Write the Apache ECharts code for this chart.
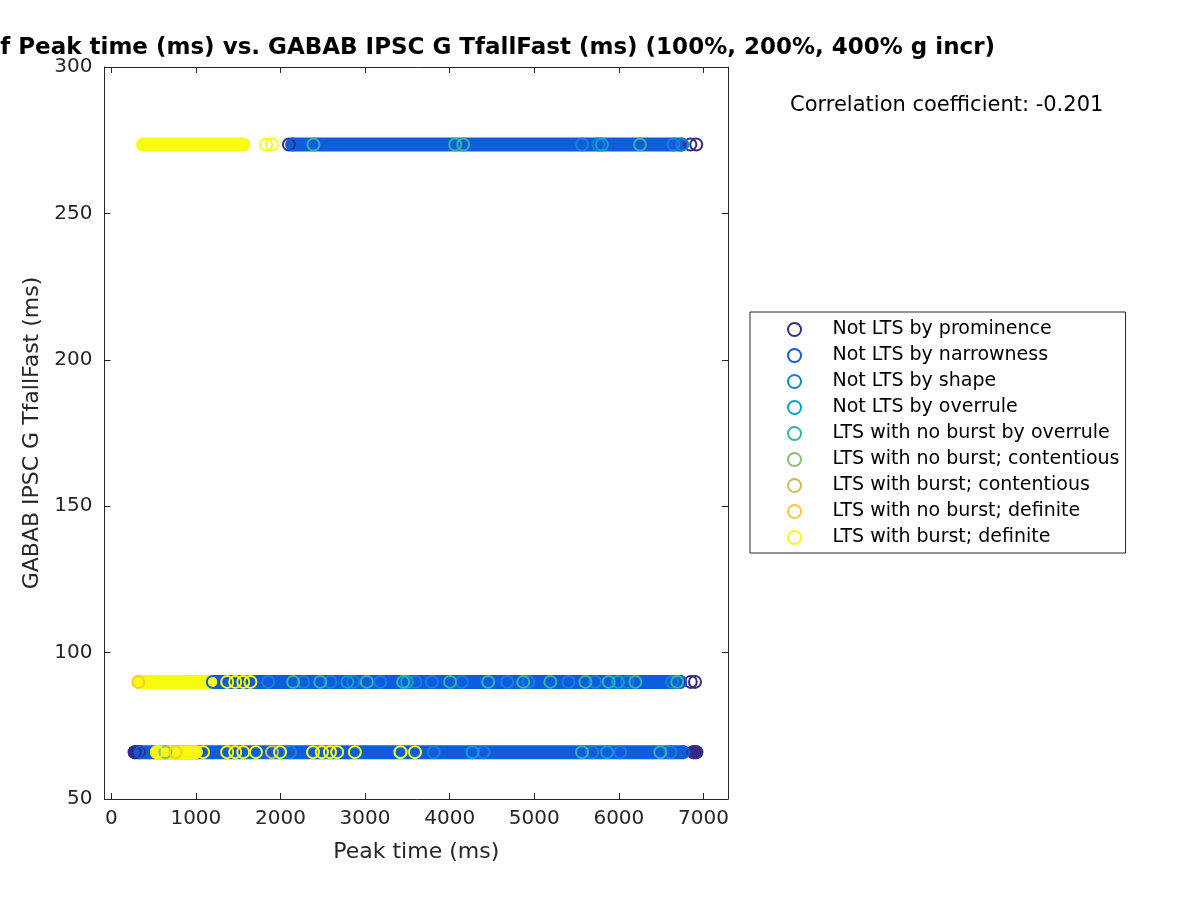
<!DOCTYPE html>
<html><head><meta charset="utf-8">
<script src="https://cdn.jsdelivr.net/npm/echarts@6/dist/echarts.min.js"></script>
<style>html,body{margin:0;padding:0;background:#fff}#c{width:1200px;height:900px}</style>
</head><body><div id="c"></div>
<script>
const titleText = 'Scatter plot of Peak time (ms) vs. GABAB IPSC G TfallFast (ms) (100%, 200%, 400% g incr)';
const corrText = 'Correlation coefficient: -0.201';
const xLabel = 'Peak time (ms)';
const yLabel = 'GABAB IPSC G TfallFast (ms)';
const xTicks = [0, 1000, 2000, 3000, 4000, 5000, 6000, 7000];
const yTicks = [50, 100, 150, 200, 250, 300];

const seriesNames = [
  'Not LTS by prominence', 'Not LTS by narrowness', 'Not LTS by shape', 'Not LTS by overrule',
  'LTS with no burst by overrule', 'LTS with no burst; contentious', 'LTS with burst; contentious',
  'LTS with no burst; definite', 'LTS with burst; definite'
];
const seriesColors = ['#352a87', '#0f5cdd', '#1481d6', '#06a4ca', '#2eb7a4', '#87bf77', '#d1bb59', '#fec832', '#f9fb0e'];

// individual markers [peak time (ms), TfallFast (ms)]
const prominencePts = [[2100, 273.5], [6845, 273.5], [6915, 273.5], [6850, 90], [6900, 90], [277, 66], [330, 66], [6880, 66], [6915, 66]];
const narrownessPts = [[2140, 273.5], [6735, 273.5], [1200, 90], [6725, 90], [350, 66], [6760, 66]];
const shapePts = [[5565, 273.5], [5760, 273.5], [6645, 273.5], [6750, 273.5],
  [1855, 90], [2270, 90], [2590, 90], [2860, 90], [3180, 90], [3595, 90], [3790, 90], [4145, 90], [4680, 90], [4930, 90], [5405, 90], [5720, 90], [6100, 90], [6630, 90],
  [2115, 66], [3810, 66], [4400, 66], [5685, 66], [6015, 66], [6610, 66]];
const overrulePts = [[5800, 273.5], [2790, 90], [3495, 90], [5990, 90], [4270, 66], [5860, 66]];
const ltsOverrulePts = [[2390, 273.5], [4065, 273.5], [4160, 273.5], [6250, 273.5],
  [2150, 90], [2470, 90], [3020, 90], [3450, 90], [4005, 90], [4455, 90], [4870, 90], [5190, 90], [5605, 90], [5880, 90], [6195, 90], [6690, 90],
  [3415, 66], [5565, 66], [6490, 66]];
const contentiousNoBurstPts = [[640, 66]];
const contentiousBurstPts = [[1900, 66]];
const definiteNoBurstPts = [[320, 90], [760, 66]];
const definiteBurstPts = [[1560, 273.5], [1830, 273.5], [1900, 273.5],
  [1370, 90], [1465, 90], [1560, 90], [1645, 90],
  [540, 66], [1085, 66], [1370, 66], [1465, 66], [1560, 66], [1710, 66], [1995, 66], [2385, 66], [2490, 66], [2585, 66], [2670, 66], [2880, 66], [3420, 66], [3590, 66]];

// runs of overlapping markers too dense to separate: [from ms, to ms, TfallFast]
const prominenceRuns = [[277, 330, 66], [6880, 6915, 66]];
const narrownessRuns = [[2140, 6735, 273.5], [1200, 6725, 90], [350, 6760, 66]];
const definiteBurstRuns = [[376, 1560, 273.5], [324, 1170, 90], [540, 1000, 66]];

const pointSets = [prominencePts, narrownessPts, shapePts, overrulePts, ltsOverrulePts,
  contentiousNoBurstPts, contentiousBurstPts, definiteNoBurstPts, definiteBurstPts];
const runSets = [[prominenceRuns, 0], [narrownessRuns, 1], [definiteBurstRuns, 8]];

const axisColor = '#262626';
const series = [];
runSets.forEach(([runs, ci]) => {
  runs.forEach((r, k) => {
    series.push({
      type: 'line', name: 'run-' + ci + '-' + k, silent: true, showSymbol: false, symbol: 'none',
      z: 1, zlevel: 0,
      data: [[r[0], r[2]], [r[1], r[2]]],
      lineStyle: { color: seriesColors[ci], width: 14, cap: 'round', opacity: 1 },
      emphasis: { disabled: true }, animation: false
    });
  });
});
pointSets.forEach((pts, i) => {
  series.push({
    type: 'scatter', name: seriesNames[i], data: pts, symbol: 'circle', symbolSize: 12,
    z: 2 + i * 0.01,
    itemStyle: { color: 'rgba(0,0,0,0)', borderColor: seriesColors[i], borderWidth: 2, opacity: 1 },
    emphasis: { disabled: true }, animation: false
  });
});

const chart = echarts.init(document.getElementById('c'), null, { renderer: 'canvas' });
chart.setOption({
  backgroundColor: '#fff',
  animation: false,
  title: [
    { text: titleText, right: 205, top: 37, padding: 0,
      textStyle: { fontFamily: 'DejaVu Sans', fontWeight: 'bold', fontSize: 23, color: '#000' } },
    { text: corrText, left: 790, top: 95, padding: 0,
      textStyle: { fontFamily: 'DejaVu Sans', fontWeight: 'normal', fontSize: 21, color: '#000' } }
  ],
  grid: { left: 104.5, top: 67, width: 623.5, height: 732, containLabel: false },
  legend: {
    orient: 'vertical', left: 750, top: 312, padding: [8, 6, 6, 37],
    itemWidth: 66, itemHeight: 13, itemGap: 7,
    borderColor: axisColor, borderWidth: 1, backgroundColor: '#fff',
    textStyle: { fontFamily: 'DejaVu Sans', fontSize: 19, color: '#000' },
    selectedMode: false,
    data: seriesNames.map((n, i) => ({ name: n, icon: 'circle',
      itemStyle: { color: 'rgba(0,0,0,0)', borderColor: seriesColors[i], borderWidth: 2, opacity: 1 } }))
  },
  xAxis: [
    { type: 'value', min: -80, max: 7290, splitNumber: 7, position: 'bottom',
      name: xLabel, nameLocation: 'middle', nameGap: 42,
      nameTextStyle: { fontFamily: 'DejaVu Sans', fontSize: 22, color: axisColor },
      axisLine: { show: true, onZero: false, lineStyle: { color: axisColor, width: 1 } },
      axisTick: { show: true, inside: true, length: 6, lineStyle: { color: axisColor } },
      axisLabel: { margin: 10, fontFamily: 'DejaVu Sans', fontSize: 20, color: axisColor,
        formatter: v => (xTicks.includes(v) ? String(v) : '') },
      splitLine: { show: false } },
    { type: 'value', min: -80, max: 7290, splitNumber: 7, position: 'top',
      axisLine: { show: true, onZero: false, lineStyle: { color: axisColor, width: 1 } },
      axisTick: { show: true, inside: true, length: 6, lineStyle: { color: axisColor } },
      axisLabel: { show: false }, splitLine: { show: false } }
  ],
  yAxis: [
    { type: 'value', min: yTicks[0], max: yTicks[yTicks.length - 1], interval: 50, position: 'left',
      name: yLabel, nameLocation: 'middle', nameGap: 51, nameRotate: 90,
      nameTextStyle: { fontFamily: 'DejaVu Sans', fontSize: 22, color: axisColor },
      axisLine: { show: true, onZero: false, lineStyle: { color: axisColor, width: 1 } },
      axisTick: { show: true, inside: true, length: 6, lineStyle: { color: axisColor } },
      axisLabel: { margin: 12, fontFamily: 'DejaVu Sans', fontSize: 20, color: axisColor },
      splitLine: { show: false } },
    { type: 'value', min: yTicks[0], max: yTicks[yTicks.length - 1], interval: 50, position: 'right',
      axisLine: { show: true, onZero: false, lineStyle: { color: axisColor, width: 1 } },
      axisTick: { show: true, inside: true, length: 6, lineStyle: { color: axisColor } },
      axisLabel: { show: false }, splitLine: { show: false } }
  ],
  series: series
});
</script></body></html>
